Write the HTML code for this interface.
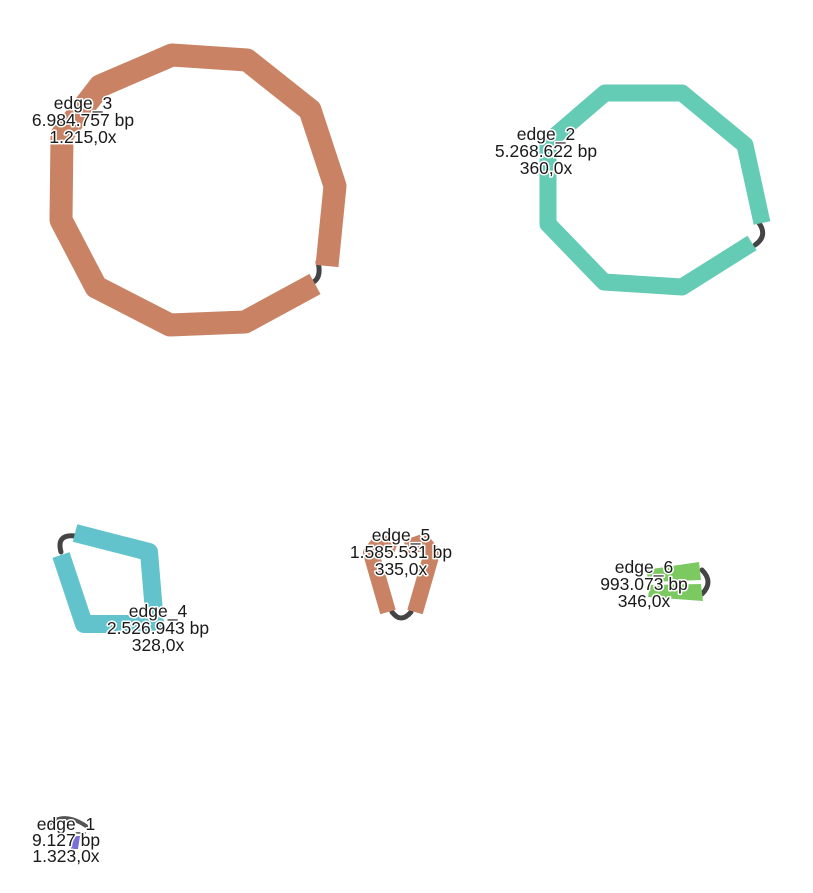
<!DOCTYPE html>
<html><head><meta charset="utf-8"><style>
html,body{margin:0;padding:0;background:#fff}
svg{display:block}
text{font-family:"Liberation Sans",sans-serif;font-size:17.5px;fill:#1a1a1a;text-anchor:middle;paint-order:stroke;stroke:#fff;stroke-width:3px;stroke-linejoin:round}
</style></head><body>
<svg width="813" height="893" viewBox="0 0 813 893">
<g>
<path d="M318,262 Q322,278 312,283" fill="none" stroke="#444" stroke-width="5" stroke-linecap="round"/>
<polyline points="327,266 335,186 310,110 247,60 172,55 100,86 62,135 61,220 96,287 170,325 245,322 315,284" fill="none" stroke="#c98264" stroke-width="23" stroke-linejoin="round"/>
<text x="83" y="109">edge_3</text>
<text x="83" y="126">6.984.757 bp</text>
<text x="83" y="143">1.215,0x</text>
</g>
<g>
<path d="M759,223 Q768,236 755,245" fill="none" stroke="#444" stroke-width="5" stroke-linecap="round"/>
<polyline points="762,223 745,145 682,93 605,93 548,142 548,224 604,282 682,287 752,243" fill="none" stroke="#64cbb4" stroke-width="17" stroke-linejoin="round"/>
<text x="546" y="140">edge_2</text>
<text x="546" y="157">5.268.622 bp</text>
<text x="546" y="174">360,0x</text>
</g>
<g>
<path d="M61,552 Q56,534 75,536" fill="none" stroke="#444" stroke-width="5" stroke-linecap="round"/>
<polyline points="61,555 84,624 155,624 149,552 75,533" fill="none" stroke="#62c3cc" stroke-width="18" stroke-linejoin="round"/>
<text x="158" y="617">edge_4</text>
<text x="158" y="634">2.526.943 bp</text>
<text x="158" y="651">328,0x</text>
</g>
<g>
<path d="M392,612 Q401,624 411,612" fill="none" stroke="#444" stroke-width="5" stroke-linecap="round"/>
<polyline points="388,612 371,553 380,542 396,548" fill="none" stroke="#c98264" stroke-width="16" stroke-linejoin="round"/>
<polyline points="415,612 432,553 423,542 406,548" fill="none" stroke="#c98264" stroke-width="16" stroke-linejoin="round"/>
<text x="401" y="541">edge_5</text>
<text x="401" y="558">1.585.531 bp</text>
<text x="401" y="575">335,0x</text>
</g>
<g>
<path d="M702,570 Q714,582 702,594" fill="none" stroke="#444" stroke-width="5" stroke-linecap="round"/>
<polygon points="645,570 699,562 701,580 650,582" fill="#7cc962"/>
<polygon points="650,585 701,584 703,601 648,597" fill="#7cc962"/>
<text x="644" y="573">edge_6</text>
<text x="644" y="590">993.073 bp</text>
<text x="644" y="607">346,0x</text>
</g>
<g>
<path d="M46,827 Q62,810 86,826" fill="none" stroke="#555" stroke-width="4" stroke-linecap="round"/>
<polygon points="72,836 80,836 78,849 71,849" fill="#7a6fd6"/>
<text x="66" y="830">edge_1</text>
<text x="66" y="846">9.127 bp</text>
<text x="66" y="862">1.323,0x</text>
</g>
</svg>
</body></html>
